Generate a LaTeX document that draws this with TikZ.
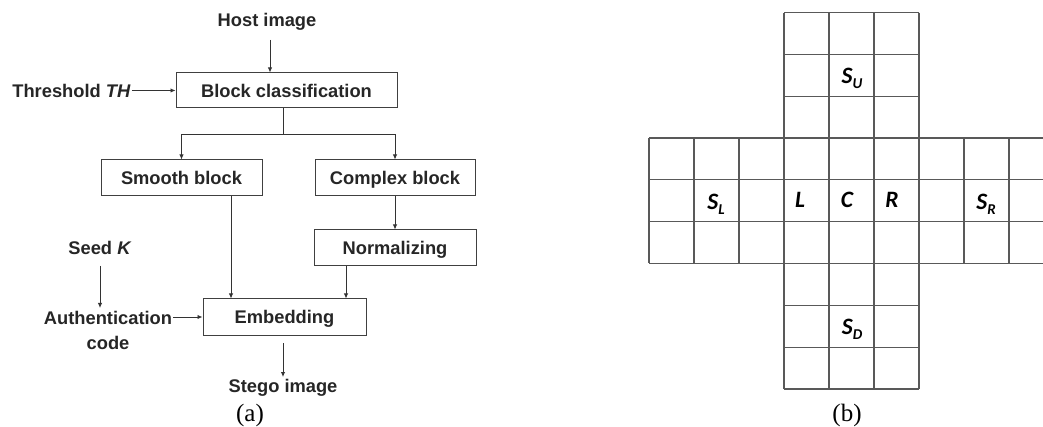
\documentclass[tikz,border=0pt]{standalone}
\usepackage{fontspec}
\setmainfont{Liberation Serif}
\newfontfamily\arialf{Liberation Sans}
\newfontfamily\calibf{Carlito}
\usetikzlibrary{arrows.meta,calc}
\newcommand{\glab}[2]{{\calibf\bfseries\itshape\fontsize{23.5}{23.5}\selectfont #1\raisebox{-5pt}{\fontsize{15}{15}\selectfont #2}}}
\begin{document}
\begin{tikzpicture}[x=1pt,y=-1pt,
  txt/.style={font=\arialf\bfseries\fontsize{18.3}{25}\selectfont, text=black!85, inner sep=0pt},
  box/.style={txt, draw=black!75, line width=1pt, inner sep=0pt, text height=13.2pt, text depth=0pt},
  arr/.style={draw=black!80, line width=0.9pt, -{Latex[length=5pt,width=4.5pt]}},
  ln/.style={draw=black!80, line width=0.9pt},
  gridl/.style={draw=black!65, line width=1.2pt},
  captxt/.style={font=\fontsize{25}{25}\selectfont, inner sep=0pt}]
\useasboundingbox (0,0) rectangle (1043,427);
\fill[white] (0,0) rectangle (1043,427);
\clip (0,0) rectangle (1043,427);
% ---------------- (a) flowchart ----------------
\node[txt] (host) at (267,22) {Host image};
\node[box, minimum width=221, minimum height=35] (blk) at (286.5,90.5) {Block classification};
\node[txt] (th) at (71.5,90.5) {Threshold \textit{TH}};
\node[box, minimum width=161, minimum height=36] (smooth) at (181.5,178) {Smooth block};
\node[box, minimum width=160, minimum height=36] (complex) at (395,178) {Complex block};
\node[box, minimum width=162, minimum height=36] (norm) at (395,248) {Normalizing};
\node[box, minimum width=163, minimum height=36] (embed) at (284.5,317) {Embedding};
\node[txt] (seed) at (100,248) {Seed \textit{K}};
\node[txt, align=center] (auth) at (108,330.5) {Authentication\\code};
\node[txt] (stego) at (283,388) {Stego image};
\coordinate (split) at (283,134);
\coordinate (hx) at (270,40);
\coordinate (sx) at (100,266);
\coordinate (sy) at (100,308);
\coordinate (ex) at (283,343);
\coordinate (ey) at (283,377);

\draw[arr] (hx) -- (hx |- blk.north);
\draw[arr] ([xshift=1pt]th.east) -- (blk.west);
\draw[ln] (blk.south -| split) -- (split);
\draw[arr] (split) -| (smooth.north);
\draw[arr] (split) -| (complex.north);
\draw[arr] ([xshift=49.5pt]smooth.south) -- ([xshift=49.5pt]smooth.south |- embed.north);
\draw[arr] (complex.south) -- (norm.north);
\draw[arr] ([xshift=-49pt]norm.south) -- ([xshift=-49pt]norm.south |- embed.north);
\draw[arr] (sx) -- (sy);
\draw[arr] ([xshift=1pt]auth.east |- embed.west) -- (embed.west);
\draw[arr] (ex) -- (ey);

\node[captxt] (capa) at (250,415) {(a)};

% ---------------- (b) grid ----------------
\foreach \i in {0,...,9} {
  \draw[gridl] ({649+45*\i},138.1) -- ({649+45*\i},263.5);
}
\foreach \j in {3,...,6} {
  \draw[gridl] (649,{12.7+41.8*\j}) -- (1054,{12.7+41.8*\j});
}
\foreach \i in {3,...,6} {
  \draw[gridl] ({649+45*\i},12.7) -- ({649+45*\i},388.9);
}
\foreach \j in {0,1,2,7,8,9} {
  \draw[gridl] (784,{12.7+41.8*\j}) -- (919,{12.7+41.8*\j});
}
\node[inner sep=0pt] (su) at (852,78) {\glab{S}{U}};
\node[inner sep=0pt] (sd) at (852,329) {\glab{S}{D}};
\node[inner sep=0pt] (sl) at (716,204) {\glab{S}{L}};
\node[inner sep=0pt] (sr) at (986,204) {\glab{S}{R}};
\node[inner sep=0pt] (l) at (800,202) {\glab{L}{}};
\node[inner sep=0pt] (c) at (847,202) {\glab{C}{}};
\node[inner sep=0pt] (r) at (892,202) {\glab{R}{}};

\node[captxt] (capb) at (847,415) {(b)};
\end{tikzpicture}
\end{document}
